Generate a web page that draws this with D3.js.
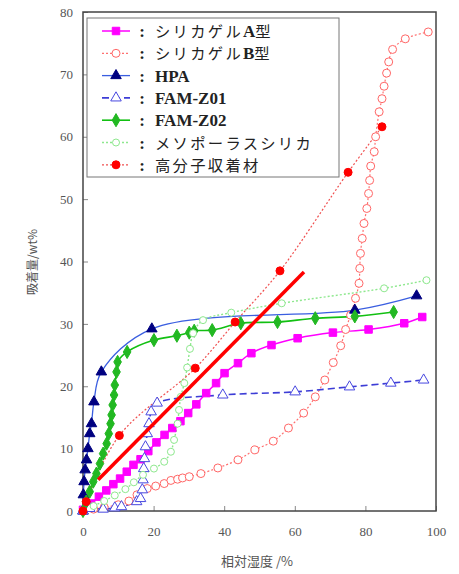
<!DOCTYPE html>
<html>
<head>
<meta charset="utf-8">
<script src="https://cdn.jsdelivr.net/npm/d3@7"></script>
<style>
  body { margin: 0; background: #fff; }
  svg { display: block; }
</style>
</head>
<body>
<svg width="459" height="574"></svg>
<script>
// values: [relative humidity %, uptake wt%]
const silicaA = [[0,0.2],[2.3,1.2],[4.5,2.3],[6.6,3.3],[8.6,4.3],[10.5,5.2],[12.4,6.3],[14.3,7.4],[16.3,8.3],[18.5,9.6],[20.8,11],[23.1,12.2],[25.3,13.3],[27.6,14.4],[29.8,15.7],[32.1,17.1],[34.9,18.9],[37.7,20.5],[40.1,22.1],[43.9,23.7],[47.7,25.3],[53.4,26.6],[60.8,27.7],[70.8,28.6],[80.9,29.1],[91,30.1],[96.1,31.1]]
const silicaB = [[0,0],[3,0.3],[6,0.6],[10,1],[13,1.6],[15.3,2.6],[18.2,3.6],[20.6,4],[23,4.4],[24.9,4.9],[26.8,5.1],[28.2,5.3],[30.1,5.5],[33.4,6],[38.2,6.9],[43.9,8.2],[48.7,9.8],[53.9,11.2],[58.2,13.3],[62.5,15.7],[65.8,18.3],[68.5,21],[70.9,23.8],[73,26.5],[74.4,29.1],[75.8,31.4],[77.2,34.1],[78.2,36.5],[78.4,38.9],[78.6,41.3],[79.1,43.7],[79.6,46.1],[80.4,48.5],[80.9,50.9],[81.2,53],[81.5,55.3],[82.5,57.6],[82.9,60],[83.9,64],[84.7,66.1],[85.3,68.1],[86,70.2],[86.6,72],[87.7,74],[91.3,75.7],[97.8,76.8]]
const hpa = [[0,0],[0.1,2.6],[0.3,4.7],[0.6,6.6],[1,8.2],[1.4,10],[1.9,12.4],[2.4,14],[3.1,17.5],[5.2,22.3],[19.5,29.2],[77,32.2],[94.5,34.5]]
const famZ01 = [[0,0],[1.9,0.4],[5.7,0.3],[9,0.5],[10.9,0.7],[15.2,1.5],[16.3,2],[16.8,3.4],[17,5],[17.2,6.8],[17.4,8.4],[17.7,10.3],[18.2,12.4],[18.7,14],[19.3,15.9],[21,17.3],[39.6,18.6],[60.1,19.1],[75.5,19.9],[87.2,20.5],[96.5,21]]
const famZ02 = [[0,0],[0.9,1.5],[1.9,3.1],[2.9,4.7],[3.8,6],[4.8,7.6],[5.7,9.2],[6.7,10.8],[7.3,12.4],[7.8,14],[8.1,15.4],[8.4,17],[8.8,18.6],[9,20.2],[9.5,22.3],[9.8,23.9],[12.5,25.5],[20.1,27.4],[26.6,28.1],[30.1,28.6],[31.5,28.9],[36.6,29],[44.7,30.1],[55.1,30.3],[65.8,30.9],[77,31.2],[88,31.9]]
const meso = [[0,0],[3,0.8],[6,1.6],[9,2.5],[12,3.5],[14.4,4.6],[17,5.8],[20.1,6.8],[23,7.9],[24.9,9.5],[25.8,11.4],[26.8,14],[27.2,16.2],[27.7,18.3],[28.7,20.5],[29.5,23],[30.3,26],[31.2,28.5],[34,30.6],[42,31.8],[56.3,33.3],[85.3,35.7],[97.3,37]]
const polymer = [[0,0],[0.9,1.5],[10.3,12.1],[31.8,22.9],[43.1,30.3],[55.8,38.5],[75.1,54.3],[84.7,61.6]]

// the thick red straight line drawn over the chart
const redLine = [[4.3,5],[62.6,38.3]]

const xTicks = [0, 20, 40, 60, 80, 100]
const yTicks = [0, 10, 20, 30, 40, 50, 60, 70, 80]

const legendLabels = ["シリカゲルA型", "シリカゲルB型", "HPA", "FAM-Z01", "FAM-Z02", "メソポーラスシリカ", "高分子収着材"]

// styles for every series, same order as the legend
const series = [
  { data: silicaA, line: "#ff00ff", dash: null, width: 1.5, mark: "square", r: 4, fill: "#ff00ff", stroke: "#ff00ff" },
  { data: silicaB, line: "#ff7070", dash: "2,2", width: 1.2, mark: "circle", r: 4, fill: "#fff", stroke: "#ff6666" },
  { data: hpa, line: "#3a5ee0", dash: null, width: 1.3, mark: "triangle", r: 4, fill: "#000080", stroke: "#000080" },
  { data: famZ01, line: "#3d3dd6", dash: "7,4", width: 1.6, mark: "triangle", r: 4, fill: "#fff", stroke: "#4848e0" },
  { data: famZ02, line: "#12c012", dash: null, width: 1.6, mark: "diamond", r: 4, fill: "#22b822", stroke: "#22b822" },
  { data: meso, line: "#8ee88e", dash: "2,2", width: 1.4, mark: "circle", r: 3.5, fill: "#fff", stroke: "#8ee88e" },
  { data: polymer, line: "#f05050", dash: "2,2", width: 1.2, mark: "dot", r: 4, fill: "#ff0000", stroke: "#ff0000" }
]

const svg = d3.select("svg")

svg.append("rect").attr("width", 459).attr("height", 574).attr("fill", "#fff")

// scales
const x = d3.scaleLinear().domain([0, 100]).range([83, 436])
const y = d3.scaleLinear().domain([0, 80]).range([511, 12])

// axes, ticks point inward
svg.append("g")
  .attr("transform", `translate(0,${y(0)})`)
  .call(d3.axisBottom(x).tickValues(xTicks).tickSize(-5).tickPadding(16))
svg.append("g")
  .attr("transform", `translate(${x(0)},0)`)
  .call(d3.axisLeft(y).tickValues(yTicks).tickSize(-5).tickPadding(10))

svg.selectAll(".domain").remove()
svg.selectAll(".tick line").attr("stroke", "#888")
svg.selectAll(".tick text")
  .attr("fill", "#555")
  .style("font-family", "'Liberation Serif', 'DejaVu Serif', serif")
  .style("font-size", "13px")

// plot frame
svg.append("rect")
  .attr("x", x(0)).attr("y", y(80))
  .attr("width", x(100) - x(0)).attr("height", y(0) - y(80))
  .attr("fill", "none").attr("stroke", "#444").attr("stroke-width", 1.5)

// axis titles
svg.append("text")
  .attr("transform", `translate(37,262) rotate(-90)`)
  .attr("text-anchor", "middle")
  .attr("fill", "#555")
  .style("font-family", "'Noto Sans CJK JP', sans-serif")
  .style("font-size", "12px")
  .text("吸着量/wt%")

svg.append("text")
  .attr("x", 257).attr("y", 566)
  .attr("text-anchor", "middle")
  .attr("fill", "#555")
  .style("font-family", "'Noto Sans CJK JP', sans-serif")
  .style("font-size", "13px")
  .text("相対湿度 /%")

// marker drawing helper
const drawMark = (g, s, cx, cy) => {
  if (s.mark == "circle" || s.mark == "dot") {
    g.append("circle").attr("cx", cx).attr("cy", cy).attr("r", s.r)
      .attr("fill", s.fill).attr("stroke", s.stroke).attr("stroke-width", 1)
  } else {
    const type = s.mark == "square" ? d3.symbolSquare : s.mark == "triangle" ? d3.symbolTriangle : d3.symbolDiamond
    const size = s.mark == "square" ? 56 : s.mark == "triangle" ? 48 : 50
    g.append("path")
      .attr("d", d3.symbol().type(type).size(size)())
      .attr("transform", `translate(${cx},${cy})`)
      .attr("fill", s.fill).attr("stroke", s.stroke).attr("stroke-width", 1)
  }
}

// smooth lines like the spreadsheet chart
const line = d3.line()
  .x(d => x(d[0]))
  .y(d => y(d[1]))
  .curve(d3.curveCatmullRom.alpha(0.5))

const plot = svg.append("g")

series.forEach(s => {
  plot.append("path")
    .datum(s.data)
    .attr("d", line)
    .attr("fill", "none")
    .attr("stroke", s.line)
    .attr("stroke-width", s.width)
    .attr("stroke-dasharray", s.dash)
})

series.forEach(s => {
  const g = plot.append("g")
  s.data.forEach(d => drawMark(g, s, x(d[0]), y(d[1])))
})

// legend
const legend = svg.append("g")
legend.append("rect")
  .attr("x", 87).attr("y", 18).attr("width", 252).attr("height", 159)
  .attr("fill", "#fff").attr("stroke", "#777").attr("stroke-width", 1)

series.forEach((s, i) => {
  const ry = 31 + i * 22.3
  const g = legend.append("g")
  g.append("line")
    .attr("x1", 102).attr("x2", 130).attr("y1", ry).attr("y2", ry)
    .attr("stroke", s.line).attr("stroke-width", s.width).attr("stroke-dasharray", s.dash)
  drawMark(g, s, 116, ry)
  g.append("text")
    .attr("x", 142).attr("y", ry + 6)
    .attr("text-anchor", "middle")
    .attr("fill", "#222")
    .style("font-family", "'Liberation Serif', serif")
    .style("font-weight", "bold")
    .style("font-size", "17px")
    .text(":")
  // latin parts bold serif, japanese parts plain; each piece its own text
  let tx = 155
  legendLabels[i].split(/([A-Za-z0-9\-]+)/).filter(p => p.length).forEach(p => {
    const latin = /^[A-Za-z0-9\-]+$/.test(p)
    const t = g.append("text")
      .attr("x", tx).attr("y", ry + 6)
      .attr("fill", "#222")
      .style("font-family", latin ? "'Liberation Serif', serif" : "'Noto Sans CJK JP', sans-serif")
      .style("font-weight", latin ? "bold" : "normal")
      .style("font-size", latin ? "17px" : "15.3px")
      .style("letter-spacing", latin ? "0px" : "2.3px")
      .text(p)
    tx += t.node().getComputedTextLength()
  })
})

// thick red line on top
svg.append("path")
  .datum(redLine)
  .attr("d", d3.line().x(d => x(d[0])).y(d => y(d[1])))
  .attr("stroke", "#ff0000")
  .attr("stroke-width", 3.5)
  .attr("fill", "none")
</script>
</body>
</html>
